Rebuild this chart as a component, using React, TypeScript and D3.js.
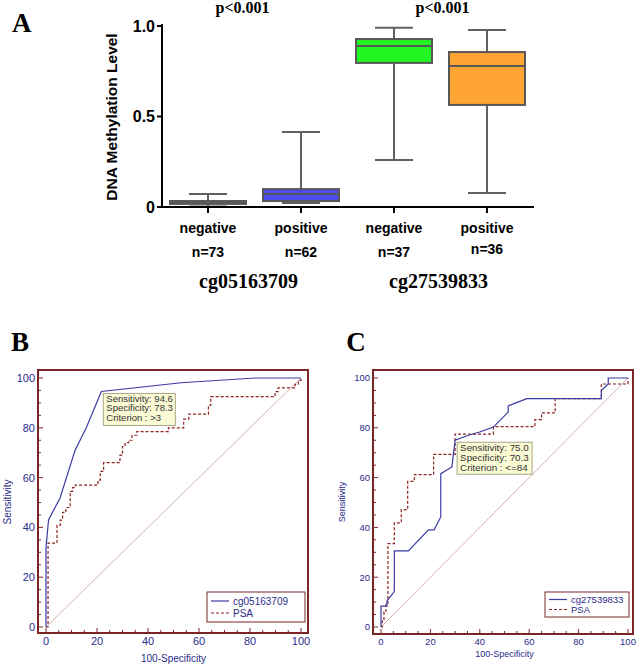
import React from "react";
import * as d3 from "d3";

// ---------- Panel A data ----------
const BOX_GROUPS = ["negative", "positive", "negative", "positive"];
const BOX_N = ["n=73", "n=62", "n=37", "n=36"];
const BOX_MIN = [0.003, 0.022, 0.26, 0.077];
const BOX_Q1 = [0.017, 0.033, 0.796, 0.564];
const BOX_MED = [0.025, 0.072, 0.89, 0.779];
const BOX_Q3 = [0.033, 0.099, 0.928, 0.856];
const BOX_MAX = [0.072, 0.414, 0.99, 0.978];
const BOX_COLORS = ["#6e6e6e", "#4b4bf0", "#22f522", "#ffa534"];
const MARKERS = ["cg05163709", "cg27539833"];
const P_LABELS = ["p<0.001", "p<0.001"];
const A_TICKS = [0, 0.5, 1.0];
const A_TICK_LABELS = ["0", "0.5", "1.0"];

// ---------- Panel B data ----------
const B_MARKER_X = [0, 0, 1, 5.5, 11.4, 15.8, 21.7, 53, 82, 100];
const B_MARKER_Y = [0, 32, 43, 51.8, 71, 80, 94.6, 98.1, 100, 100];
const B_PSA_X = [0, 0.8, 4.3, 5.6, 6.5, 7.8, 9.5, 10.4, 11.5, 20.4, 21.3, 22.6, 29, 30, 31, 32.4, 33.7, 35.6, 48, 54, 56, 63.7, 64.6, 89.8, 91, 97.7, 99, 100];
const B_PSA_Y = [0, 33.7, 40.8, 42.9, 46, 48, 54.5, 56, 57, 59, 62.5, 66, 69, 72.5, 74, 75, 77, 78.5, 80, 83.5, 85.5, 89, 92.5, 94.5, 96, 97.5, 99, 100];
const B_TIP = ["Sensitivity: 94.6", "Specificity: 78.3", "Criterion : >3"];
const B_TIP_POINT = [21.7, 94.6];

// ---------- Panel C data ----------
const C_MARKER_X = [0, 0, 2.4, 2.4, 5.4, 5.4, 11.1, 19.2, 21.5, 24.2, 24.2, 28.7, 30, 35.4, 40, 45.5, 51.5, 51.5, 59, 89.2, 89.2, 92, 92, 100];
const C_MARKER_Y = [0, 8.4, 8.4, 10.5, 14.2, 30.6, 30.6, 39, 39, 44.2, 61.6, 64.3, 75, 77, 78.3, 80.3, 86.3, 88.8, 91.7, 91.7, 95, 97.6, 100, 100];
const C_PSA_X = [0, 0.5, 1.2, 2.0, 2.8, 5.4, 8.2, 10.8, 13.5, 21.3, 30, 45.5, 62.3, 65, 70.5, 89.2, 100];
const C_PSA_Y = [0, 3, 6, 9, 33.5, 41.8, 47.1, 58.5, 61.2, 69.3, 77.5, 80.5, 83.3, 86, 91.7, 97.6, 100];
const C_TIP = ["Sensitivity: 75.0", "Specificity: 70.3", "Criterion : <=84"];
const C_TIP_POINT = [30, 75];

const ROC_TICKS = [0, 20, 40, 60, 80, 100];

const NAVY = "#2b2b8a";
const MAROON = "#7a2626";
const BLUE_LINE = "#3b3ba6";
const RED_LINE = "#8e2222";

function PanelA() {
  const x = d3.scalePoint<number>().domain([0, 1, 2, 3]).range([208, 487]);
  const y = d3.scaleLinear().domain([0, 1]).range([207, 26]);
  const boxW = 76;
  const capW = 38;
  const sans = "'Liberation Sans', Arial, sans-serif";
  const serif = "'Liberation Serif', 'Times New Roman', serif";
  const pairCenters = [(x(0)! + x(1)!) / 2, (x(2)! + x(3)!) / 2];
  return (
    <g>
      <text x={12} y={32} fontFamily={serif} fontWeight="bold" fontSize={27}>A</text>
      {P_LABELS.map((p, i) => (
        <text key={"p" + i} x={pairCenters[i] + (i === 0 ? -12 : 2)} y={13} textAnchor="middle" fontFamily={serif} fontWeight="bold" fontSize={16}>{p}</text>
      ))}
      <text transform="translate(117,117) rotate(-90)" textAnchor="middle" fontFamily={sans} fontWeight="bold" fontSize={15.5}>DNA Methylation Level</text>
      {/* y axis */}
      <line x1={162} x2={162} y1={y(1) - 2} y2={y(0)} stroke="#000" strokeWidth={2} />
      {A_TICKS.map((t, i) => (
        <g key={"yt" + i}>
          <line x1={157} x2={162} y1={y(t)} y2={y(t)} stroke="#000" strokeWidth={2} />
          <text x={155} y={y(t) + 5.5} textAnchor="end" fontFamily={sans} fontWeight="bold" fontSize={16}>{A_TICK_LABELS[i]}</text>
        </g>
      ))}
      {/* boxes */}
      {BOX_GROUPS.map((g, i) => {
        const cx = x(i)!;
        return (
          <g key={"b" + i}>
            <line x1={cx} x2={cx} y1={y(BOX_MAX[i])} y2={y(BOX_MIN[i])} stroke="#606060" strokeWidth={2} />
            <line x1={cx - capW / 2} x2={cx + capW / 2} y1={y(BOX_MAX[i])} y2={y(BOX_MAX[i])} stroke="#606060" strokeWidth={2} />
            <line x1={cx - capW / 2} x2={cx + capW / 2} y1={y(BOX_MIN[i])} y2={y(BOX_MIN[i])} stroke="#606060" strokeWidth={2} />
            <rect x={cx - boxW / 2} y={y(BOX_Q3[i])} width={boxW} height={Math.max(1, y(BOX_Q1[i]) - y(BOX_Q3[i]))} fill={BOX_COLORS[i]} stroke="#585858" strokeWidth={2} />
            <line x1={cx - boxW / 2} x2={cx + boxW / 2} y1={y(BOX_MED[i])} y2={y(BOX_MED[i])} stroke="#585858" strokeWidth={2} />
          </g>
        );
      })}
      {/* x axis */}
      <line x1={161} x2={534} y1={y(0)} y2={y(0)} stroke="#000" strokeWidth={2} />
      {BOX_GROUPS.map((g, i) => (
        <g key={"xt" + i}>
          <line x1={x(i)!} x2={x(i)!} y1={y(0)} y2={y(0) + 6} stroke="#000" strokeWidth={2} />
          <text x={x(i)!} y={233} textAnchor="middle" fontFamily={sans} fontWeight="bold" fontSize={14}>{g}</text>
          <text x={x(i)!} y={i === 3 ? 254 : 257} textAnchor="middle" fontFamily={sans} fontWeight="bold" fontSize={14}>{BOX_N[i]}</text>
        </g>
      ))}
      {MARKERS.map((m, i) => (
        <text key={"m" + i} x={pairCenters[i] + (i === 0 ? -6 : -2)} y={288} textAnchor="middle" fontFamily={serif} fontWeight="bold" fontSize={20}>{m}</text>
      ))}
    </g>
  );
}

type RocProps = {
  letter: string;
  letterX: number;
  frame: [number, number, number, number];
  xr: [number, number];
  markerX: number[];
  markerY: number[];
  psaX: number[];
  psaY: number[];
  markerName: string;
  tip: string[];
  tipPoint: number[];
  tipSize: [number, number];
  tipFont: number;
  tipStep: number;
  legend: [number, number, number, number];
  legendFont: number;
  tickFont: number;
  titleFont: number;
  xTitleY: number;
  yTitleX: number;
};

function Roc(p: RocProps) {
  const sans = "'Liberation Sans', Arial, sans-serif";
  const serif = "'Liberation Serif', 'Times New Roman', serif";
  const [fl, ft, fr, fb] = p.frame;
  const x = d3.scaleLinear().domain([0, 100]).range(p.xr);
  const y = d3.scaleLinear().domain([0, 100]).range([627, 378]);
  const minor = d3.range(0, 101, 5);
  const markerLine = d3.line<number>().x((_, i) => x(p.markerX[i])).y((_, i) => y(p.markerY[i])).curve(d3.curveLinear);
  const psaLine = d3.line<number>().x((_, i) => x(p.psaX[i])).y((_, i) => y(p.psaY[i])).curve(d3.curveStepAfter);
  const tx = x(p.tipPoint[0]) + 2;
  const ty = y(p.tipPoint[1]) + 2;
  const [lx, ly, lw, lh] = p.legend;
  return (
    <g>
      <text x={p.letterX} y={351} textAnchor="middle" fontFamily={serif} fontWeight="bold" fontSize={27}>{p.letter}</text>
      {/* diagonal */}
      <line x1={x(0)} y1={y(0)} x2={x(100)} y2={y(100)} stroke="#d4a6a6" strokeWidth={0.9} />
      <path d={psaLine(p.psaX) || ""} fill="none" stroke={RED_LINE} strokeWidth={1.2} strokeDasharray="3,2" />
      <path d={markerLine(p.markerX) || ""} fill="none" stroke={BLUE_LINE} strokeWidth={1.2} />
      {/* ticks */}
      {minor.map((t) => {
        const major = t % 20 === 0;
        const len = major ? 5 : 3;
        return (
          <g key={"t" + t}>
            <line x1={fl} x2={fl + len} y1={y(t)} y2={y(t)} stroke={MAROON} strokeWidth={1} />
            <line x1={x(t)} x2={x(t)} y1={fb} y2={fb - len} stroke={MAROON} strokeWidth={1} />
          </g>
        );
      })}
      {ROC_TICKS.map((t) => (
        <g key={"l" + t}>
          <text x={fl - 3} y={y(t) + p.tickFont * 0.36} textAnchor="end" fontFamily={sans} fontSize={p.tickFont} fill={NAVY}>{t}</text>
          <text x={x(t)} y={fb + 4 + p.tickFont * 0.75} textAnchor="middle" fontFamily={sans} fontSize={p.tickFont} fill={NAVY}>{t}</text>
        </g>
      ))}
      <rect x={fl} y={ft} width={fr - fl} height={fb - ft} fill="none" stroke={MAROON} strokeWidth={2} />
      <text x={(x(0) + x(100)) / 2} y={p.xTitleY} textAnchor="middle" fontFamily={sans} fontSize={p.titleFont} fill={NAVY}>100-Specificity</text>
      <text transform={`translate(${p.yTitleX},502) rotate(-90)`} textAnchor="middle" fontFamily={sans} fontSize={p.titleFont} fill={NAVY}>Sensitivity</text>
      {/* tooltip */}
      <rect x={tx} y={ty} width={p.tipSize[0]} height={p.tipSize[1]} fill="#fafad4" stroke="#a8a888" strokeWidth={1} />
      {p.tip.map((s, i) => (
        <text key={"tip" + i} x={tx + 3} y={ty + p.tipFont * 0.85 + i * p.tipStep} fontFamily={sans} fontSize={p.tipFont} fill="#333">{s}</text>
      ))}
      {/* legend */}
      <rect x={lx} y={ly} width={lw} height={lh} fill="#fff" stroke={MAROON} strokeWidth={1} />
      <line x1={lx + 4} x2={lx + 22} y1={ly + lh * 0.3} y2={ly + lh * 0.3} stroke={BLUE_LINE} strokeWidth={1.2} />
      <text x={lx + 26} y={ly + lh * 0.3 + p.legendFont * 0.36} fontFamily={sans} fontSize={p.legendFont} fill={NAVY}>{p.markerName}</text>
      <line x1={lx + 4} x2={lx + 22} y1={ly + lh * 0.7} y2={ly + lh * 0.7} stroke={RED_LINE} strokeWidth={1.2} strokeDasharray="3,2" />
      <text x={lx + 26} y={ly + lh * 0.7 + p.legendFont * 0.36} fontFamily={sans} fontSize={p.legendFont} fill={NAVY}>PSA</text>
    </g>
  );
}

export default function App() {
  return (
    <svg width={640} height={664} style={{ position: "absolute", left: 0, top: 0, background: "#fff" }}>
      <rect width={640} height={664} fill="#fff" />
      <PanelA />
      <Roc
        letter="B"
        letterX={20}
        frame={[38, 370, 308, 633]}
        xr={[46, 301]}
        markerX={B_MARKER_X}
        markerY={B_MARKER_Y}
        psaX={B_PSA_X}
        psaY={B_PSA_Y}
        markerName="cg05163709"
        tip={B_TIP}
        tipPoint={B_TIP_POINT}
        tipSize={[72, 32]}
        tipFont={9.5}
        tipStep={9.8}
        legend={[207, 592, 98, 30]}
        legendFont={10}
        tickFont={11}
        titleFont={10}
        xTitleY={662}
        yTitleX={11}
      />
      <Roc
        letter="C"
        letterX={356}
        frame={[373, 370, 633, 634]}
        xr={[381, 628]}
        markerX={C_MARKER_X}
        markerY={C_MARKER_Y}
        psaX={C_PSA_X}
        psaY={C_PSA_Y}
        markerName="cg27539833"
        tip={C_TIP}
        tipPoint={C_TIP_POINT}
        tipSize={[75, 32]}
        tipFont={9.8}
        tipStep={10.4}
        legend={[545, 592, 84, 25]}
        legendFont={9.5}
        tickFont={9.5}
        titleFont={9}
        xTitleY={657}
        yTitleX={345}
      />
    </svg>
  );
}
